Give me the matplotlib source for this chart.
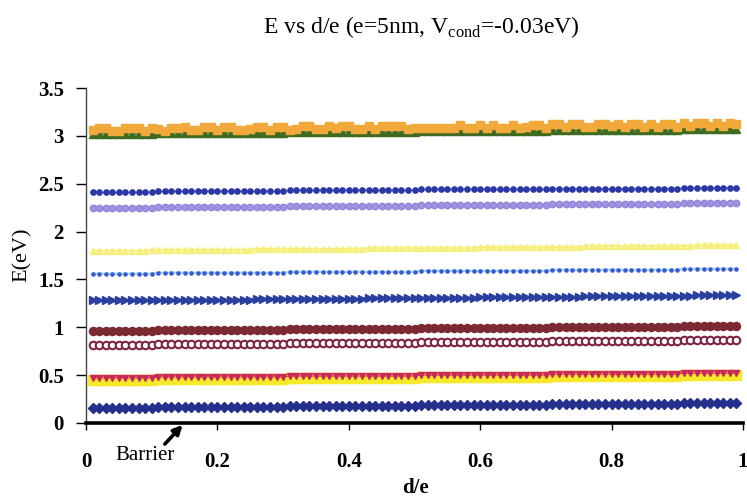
import numpy as np
import matplotlib
matplotlib.use('Agg')
import matplotlib.pyplot as plt

plt.rcParams['font.family'] = ['Liberation Serif', 'DejaVu Serif']
plt.rcParams['mathtext.fontset'] = 'custom'
plt.rcParams['mathtext.rm'] = 'Liberation Serif'

# barrier position d/e (0.01 ... 0.99)
d_e = np.arange(1, 100) / 100

# energy levels E(eV) for each state vs barrier position
e_diamond = [
    0.16, 0.16, 0.16, 0.16, 0.16, 0.16, 0.16, 0.16, 0.16, 0.16,
    0.17, 0.17, 0.17, 0.17, 0.17, 0.17, 0.17, 0.17, 0.17, 0.17,
    0.17, 0.17, 0.17, 0.17, 0.17, 0.17, 0.17, 0.17, 0.17, 0.17,
    0.18, 0.18, 0.18, 0.18, 0.18, 0.18, 0.18, 0.18, 0.18, 0.18,
    0.18, 0.18, 0.18, 0.18, 0.18, 0.18, 0.18, 0.18, 0.18, 0.18,
    0.19, 0.19, 0.19, 0.19, 0.19, 0.19, 0.19, 0.19, 0.19, 0.19,
    0.19, 0.19, 0.19, 0.19, 0.19, 0.19, 0.19, 0.19, 0.19, 0.19,
    0.20, 0.20, 0.20, 0.20, 0.20, 0.20, 0.20, 0.20, 0.20, 0.20,
    0.20, 0.20, 0.20, 0.20, 0.20, 0.20, 0.20, 0.20, 0.20, 0.20,
    0.21, 0.21, 0.21, 0.21, 0.21, 0.21, 0.21, 0.21, 0.21,
]
e_square = [
    0.45, 0.45, 0.45, 0.45, 0.45, 0.45, 0.45, 0.45, 0.45, 0.45,
    0.46, 0.46, 0.46, 0.46, 0.46, 0.46, 0.46, 0.46, 0.46, 0.46,
    0.46, 0.46, 0.46, 0.46, 0.46, 0.46, 0.46, 0.46, 0.46, 0.46,
    0.47, 0.47, 0.47, 0.47, 0.47, 0.47, 0.47, 0.47, 0.47, 0.47,
    0.47, 0.47, 0.47, 0.47, 0.47, 0.47, 0.47, 0.47, 0.47, 0.47,
    0.48, 0.48, 0.48, 0.48, 0.48, 0.48, 0.48, 0.48, 0.48, 0.48,
    0.48, 0.48, 0.48, 0.48, 0.48, 0.48, 0.48, 0.48, 0.48, 0.48,
    0.49, 0.49, 0.49, 0.49, 0.49, 0.49, 0.49, 0.49, 0.49, 0.49,
    0.49, 0.49, 0.49, 0.49, 0.49, 0.49, 0.49, 0.49, 0.49, 0.49,
    0.50, 0.50, 0.50, 0.50, 0.50, 0.50, 0.50, 0.50, 0.50,
]
e_tri_down = [
    0.47, 0.47, 0.47, 0.47, 0.47, 0.47, 0.47, 0.47, 0.47, 0.47,
    0.48, 0.48, 0.48, 0.48, 0.48, 0.48, 0.48, 0.48, 0.48, 0.48,
    0.48, 0.48, 0.48, 0.48, 0.48, 0.48, 0.48, 0.48, 0.48, 0.48,
    0.49, 0.49, 0.49, 0.49, 0.49, 0.49, 0.49, 0.49, 0.49, 0.49,
    0.49, 0.49, 0.49, 0.49, 0.49, 0.49, 0.49, 0.49, 0.49, 0.49,
    0.50, 0.50, 0.50, 0.50, 0.50, 0.50, 0.50, 0.50, 0.50, 0.50,
    0.50, 0.50, 0.50, 0.50, 0.50, 0.50, 0.50, 0.50, 0.50, 0.50,
    0.51, 0.51, 0.51, 0.51, 0.51, 0.51, 0.51, 0.51, 0.51, 0.51,
    0.51, 0.51, 0.51, 0.51, 0.51, 0.51, 0.51, 0.51, 0.51, 0.51,
    0.52, 0.52, 0.52, 0.52, 0.52, 0.52, 0.52, 0.52, 0.52,
]
e_ring = [
    0.82, 0.82, 0.82, 0.82, 0.82, 0.82, 0.82, 0.82, 0.82, 0.82,
    0.83, 0.83, 0.83, 0.83, 0.83, 0.83, 0.83, 0.83, 0.83, 0.83,
    0.83, 0.83, 0.83, 0.83, 0.83, 0.83, 0.83, 0.83, 0.83, 0.83,
    0.84, 0.84, 0.84, 0.84, 0.84, 0.84, 0.84, 0.84, 0.84, 0.84,
    0.84, 0.84, 0.84, 0.84, 0.84, 0.84, 0.84, 0.84, 0.84, 0.84,
    0.85, 0.85, 0.85, 0.85, 0.85, 0.85, 0.85, 0.85, 0.85, 0.85,
    0.85, 0.85, 0.85, 0.85, 0.85, 0.85, 0.85, 0.85, 0.85, 0.85,
    0.86, 0.86, 0.86, 0.86, 0.86, 0.86, 0.86, 0.86, 0.86, 0.86,
    0.86, 0.86, 0.86, 0.86, 0.86, 0.86, 0.86, 0.86, 0.86, 0.86,
    0.87, 0.87, 0.87, 0.87, 0.87, 0.87, 0.87, 0.87, 0.87,
]
e_dot = [
    0.96, 0.96, 0.96, 0.96, 0.96, 0.96, 0.96, 0.96, 0.96, 0.96,
    0.97, 0.97, 0.97, 0.97, 0.97, 0.97, 0.97, 0.97, 0.97, 0.97,
    0.97, 0.97, 0.97, 0.97, 0.97, 0.97, 0.97, 0.97, 0.97, 0.97,
    0.98, 0.98, 0.98, 0.98, 0.98, 0.98, 0.98, 0.98, 0.98, 0.98,
    0.98, 0.98, 0.98, 0.98, 0.98, 0.98, 0.98, 0.98, 0.98, 0.98,
    0.99, 0.99, 0.99, 0.99, 0.99, 0.99, 0.99, 0.99, 0.99, 0.99,
    0.99, 0.99, 0.99, 0.99, 0.99, 0.99, 0.99, 0.99, 0.99, 0.99,
    1.00, 1.00, 1.00, 1.00, 1.00, 1.00, 1.00, 1.00, 1.00, 1.00,
    1.00, 1.00, 1.00, 1.00, 1.00, 1.00, 1.00, 1.00, 1.00, 1.00,
    1.01, 1.01, 1.01, 1.01, 1.01, 1.01, 1.01, 1.01, 1.01,
]
e_tri_right = [
    1.28, 1.28, 1.28, 1.28, 1.28, 1.28, 1.28, 1.28, 1.28, 1.29,
    1.29, 1.29, 1.29, 1.29, 1.29, 1.29, 1.29, 1.29, 1.29, 1.29,
    1.29, 1.29, 1.29, 1.29, 1.29, 1.30, 1.30, 1.30, 1.30, 1.30,
    1.30, 1.30, 1.30, 1.30, 1.30, 1.30, 1.30, 1.30, 1.30, 1.30,
    1.30, 1.30, 1.31, 1.31, 1.31, 1.31, 1.31, 1.31, 1.31, 1.31,
    1.31, 1.31, 1.31, 1.31, 1.31, 1.31, 1.31, 1.31, 1.31, 1.32,
    1.32, 1.32, 1.32, 1.32, 1.32, 1.32, 1.32, 1.32, 1.32, 1.32,
    1.32, 1.32, 1.32, 1.32, 1.32, 1.33, 1.33, 1.33, 1.33, 1.33,
    1.33, 1.33, 1.33, 1.33, 1.33, 1.33, 1.33, 1.33, 1.33, 1.33,
    1.33, 1.33, 1.34, 1.34, 1.34, 1.34, 1.34, 1.34, 1.34,
]
e_cyan = [
    1.56, 1.56, 1.56, 1.56, 1.56, 1.56, 1.56, 1.56, 1.56, 1.56,
    1.57, 1.57, 1.57, 1.57, 1.57, 1.57, 1.57, 1.57, 1.57, 1.57,
    1.57, 1.57, 1.57, 1.57, 1.57, 1.57, 1.57, 1.57, 1.57, 1.57,
    1.58, 1.58, 1.58, 1.58, 1.58, 1.58, 1.58, 1.58, 1.58, 1.58,
    1.58, 1.58, 1.58, 1.58, 1.58, 1.58, 1.58, 1.58, 1.58, 1.58,
    1.59, 1.59, 1.59, 1.59, 1.59, 1.59, 1.59, 1.59, 1.59, 1.59,
    1.59, 1.59, 1.59, 1.59, 1.59, 1.59, 1.59, 1.59, 1.59, 1.59,
    1.60, 1.60, 1.60, 1.60, 1.60, 1.60, 1.60, 1.60, 1.60, 1.60,
    1.60, 1.60, 1.60, 1.60, 1.60, 1.60, 1.60, 1.60, 1.60, 1.60,
    1.61, 1.61, 1.61, 1.61, 1.61, 1.61, 1.61, 1.61, 1.61,
]
e_yellow = [
    1.80, 1.80, 1.80, 1.80, 1.80, 1.80, 1.80, 1.80, 1.80, 1.81,
    1.81, 1.81, 1.81, 1.81, 1.81, 1.81, 1.81, 1.81, 1.81, 1.81,
    1.81, 1.81, 1.81, 1.81, 1.81, 1.82, 1.82, 1.82, 1.82, 1.82,
    1.82, 1.82, 1.82, 1.82, 1.82, 1.82, 1.82, 1.82, 1.82, 1.82,
    1.82, 1.82, 1.83, 1.83, 1.83, 1.83, 1.83, 1.83, 1.83, 1.83,
    1.83, 1.83, 1.83, 1.83, 1.83, 1.83, 1.83, 1.83, 1.83, 1.84,
    1.84, 1.84, 1.84, 1.84, 1.84, 1.84, 1.84, 1.84, 1.84, 1.84,
    1.84, 1.84, 1.84, 1.84, 1.84, 1.85, 1.85, 1.85, 1.85, 1.85,
    1.85, 1.85, 1.85, 1.85, 1.85, 1.85, 1.85, 1.85, 1.85, 1.85,
    1.85, 1.85, 1.86, 1.86, 1.86, 1.86, 1.86, 1.86, 1.86,
]
e_lavender = [
    2.25, 2.25, 2.25, 2.25, 2.25, 2.25, 2.25, 2.25, 2.25, 2.25,
    2.26, 2.26, 2.26, 2.26, 2.26, 2.26, 2.26, 2.26, 2.26, 2.26,
    2.26, 2.26, 2.26, 2.26, 2.26, 2.26, 2.26, 2.26, 2.26, 2.26,
    2.27, 2.27, 2.27, 2.27, 2.27, 2.27, 2.27, 2.27, 2.27, 2.27,
    2.27, 2.27, 2.27, 2.27, 2.27, 2.27, 2.27, 2.27, 2.27, 2.27,
    2.28, 2.28, 2.28, 2.28, 2.28, 2.28, 2.28, 2.28, 2.28, 2.28,
    2.28, 2.28, 2.28, 2.28, 2.28, 2.28, 2.28, 2.28, 2.28, 2.28,
    2.29, 2.29, 2.29, 2.29, 2.29, 2.29, 2.29, 2.29, 2.29, 2.29,
    2.29, 2.29, 2.29, 2.29, 2.29, 2.29, 2.29, 2.29, 2.29, 2.29,
    2.30, 2.30, 2.30, 2.30, 2.30, 2.30, 2.30, 2.30, 2.30,
]
e_navy = [
    2.41, 2.41, 2.41, 2.41, 2.41, 2.41, 2.41, 2.41, 2.41, 2.41,
    2.42, 2.42, 2.42, 2.42, 2.42, 2.42, 2.42, 2.42, 2.42, 2.42,
    2.42, 2.42, 2.42, 2.42, 2.42, 2.42, 2.42, 2.42, 2.42, 2.42,
    2.43, 2.43, 2.43, 2.43, 2.43, 2.43, 2.43, 2.43, 2.43, 2.43,
    2.43, 2.43, 2.43, 2.43, 2.43, 2.43, 2.43, 2.43, 2.43, 2.43,
    2.44, 2.44, 2.44, 2.44, 2.44, 2.44, 2.44, 2.44, 2.44, 2.44,
    2.44, 2.44, 2.44, 2.44, 2.44, 2.44, 2.44, 2.44, 2.44, 2.44,
    2.45, 2.45, 2.45, 2.45, 2.45, 2.45, 2.45, 2.45, 2.45, 2.45,
    2.45, 2.45, 2.45, 2.45, 2.45, 2.45, 2.45, 2.45, 2.45, 2.45,
    2.46, 2.46, 2.46, 2.46, 2.46, 2.46, 2.46, 2.46, 2.46,
]
e_green = [
    3.02, 3.02, 3.02, 3.02, 3.02, 3.02, 3.02, 3.02, 3.02, 3.02,
    3.03, 3.03, 3.03, 3.03, 3.03, 3.03, 3.03, 3.03, 3.03, 3.03,
    3.03, 3.03, 3.03, 3.03, 3.03, 3.03, 3.03, 3.03, 3.03, 3.03,
    3.04, 3.04, 3.04, 3.04, 3.04, 3.04, 3.04, 3.04, 3.04, 3.04,
    3.04, 3.04, 3.04, 3.04, 3.04, 3.04, 3.04, 3.04, 3.04, 3.04,
    3.05, 3.05, 3.05, 3.05, 3.05, 3.05, 3.05, 3.05, 3.05, 3.05,
    3.05, 3.05, 3.05, 3.05, 3.05, 3.05, 3.05, 3.05, 3.05, 3.05,
    3.06, 3.06, 3.06, 3.06, 3.06, 3.06, 3.06, 3.06, 3.06, 3.06,
    3.06, 3.06, 3.06, 3.06, 3.06, 3.06, 3.06, 3.06, 3.06, 3.06,
    3.07, 3.07, 3.07, 3.07, 3.07, 3.07, 3.07, 3.07, 3.07,
]
e_blue = [
    3.05, 3.05, 3.05, 3.05, 3.05, 3.05, 3.05, 3.05, 3.05, 3.05,
    3.06, 3.06, 3.06, 3.06, 3.06, 3.06, 3.06, 3.06, 3.06, 3.06,
    3.06, 3.06, 3.06, 3.06, 3.06, 3.06, 3.06, 3.06, 3.06, 3.06,
    3.07, 3.07, 3.07, 3.07, 3.07, 3.07, 3.07, 3.07, 3.07, 3.07,
    3.07, 3.07, 3.07, 3.07, 3.07, 3.07, 3.07, 3.07, 3.07, 3.07,
    3.08, 3.08, 3.08, 3.08, 3.08, 3.08, 3.08, 3.08, 3.08, 3.08,
    3.08, 3.08, 3.08, 3.08, 3.08, 3.08, 3.08, 3.08, 3.08, 3.08,
    3.09, 3.09, 3.09, 3.09, 3.09, 3.09, 3.09, 3.09, 3.09, 3.09,
    3.09, 3.09, 3.09, 3.09, 3.09, 3.09, 3.09, 3.09, 3.09, 3.09,
    3.10, 3.10, 3.10, 3.10, 3.10, 3.10, 3.10, 3.10, 3.10,
]
e_orange = [
    3.06, 3.08, 3.08, 3.05, 3.05, 3.08, 3.08, 3.08, 3.05, 3.08,
    3.07, 3.05, 3.08, 3.08, 3.09, 3.06, 3.06, 3.09, 3.09, 3.06,
    3.09, 3.09, 3.06, 3.06, 3.07, 3.09, 3.09, 3.06, 3.09, 3.09,
    3.06, 3.07, 3.10, 3.10, 3.07, 3.07, 3.10, 3.08, 3.10, 3.10,
    3.07, 3.07, 3.10, 3.07, 3.10, 3.10, 3.10, 3.10, 3.07, 3.08,
    3.08, 3.08, 3.08, 3.08, 3.08, 3.08, 3.11, 3.08, 3.08, 3.11,
    3.08, 3.11, 3.08, 3.08, 3.11, 3.08, 3.09, 3.11, 3.11, 3.08,
    3.12, 3.12, 3.09, 3.12, 3.12, 3.09, 3.09, 3.12, 3.12, 3.10,
    3.12, 3.09, 3.12, 3.12, 3.09, 3.12, 3.09, 3.12, 3.12, 3.09,
    3.13, 3.10, 3.13, 3.13, 3.10, 3.13, 3.10, 3.13, 3.12,
]

x_ticks = [0, 0.2, 0.4, 0.6, 0.8, 1]
x_tick_labels = ['0', '0.2', '0.4', '0.6', '0.8', '1']
y_ticks = [0, 0.5, 1, 1.5, 2, 2.5, 3, 3.5]
y_tick_labels = ['0', '0.5', '1', '1.5', '2', '2.5', '3', '3.5']

fig = plt.figure(figsize=(7.47, 5.03), dpi=100)
ax = fig.add_axes([86 / 747, 80 / 503, 657 / 747, 335 / 503])

ax.plot(d_e, e_diamond, color='#24308c', marker='D', ms=5.2, lw=1)
ax.plot(d_e, e_square, color='#f6e82a', marker='s', ms=7, lw=1.5)
ax.plot(d_e, e_tri_down, color='#c8285c', marker='v', ms=4.2, lw=0.6)
ax.plot(d_e, e_ring, color='#7d2343', marker='o', ms=5.4, mfc='white',
        mec='#7d2343', mew=1.5, lw=1)
ax.plot(d_e, e_dot, color='#7b2a33', marker='o', ms=5.8, lw=1)
ax.plot(d_e, e_tri_right, color='#2b3f9f', marker='>', ms=5.6, lw=1)
ax.plot(d_e, e_cyan, color='#a4dcf3', lw=1.8, marker='.', ms=4.5,
        mfc='#3a58d2', mec='#3a58d2')
ax.plot(d_e, e_yellow, color='#f5f07c', marker='^', ms=4.6, lw=1.5)
ax.plot(d_e, e_lavender, color='#eab4cc', lw=1.2, marker='o', ms=4.6,
        mfc='#a093e0', mec='#9484dc')
ax.plot(d_e, e_navy, color='#7d8ad8', lw=0.8, marker='o', ms=3.8,
        mfc='#2b37a6', mec='#2b37a6')
ax.plot(d_e, e_green, color='#3d6b20', marker='^', ms=5.5, lw=1)
ax.plot(d_e, e_blue, color='#2456c8', lw=2.2)
ax.plot(d_e, e_orange, color='#f2a93b', marker='s', ms=5.8, lw=1.2)

ax.set_xlim(0, 1)
ax.set_ylim(0, 3.5)
ax.set_xticks(x_ticks, x_tick_labels, fontweight='bold')
ax.set_yticks(y_ticks, y_tick_labels, fontweight='bold')
ax.tick_params(axis='x', direction='out', length=5, width=1, pad=16, labelsize=15)
ax.tick_params(axis='y', direction='out', length=7, width=1, pad=9, labelsize=15)

ax.spines['top'].set_visible(False)
ax.spines['right'].set_visible(False)
ax.spines['left'].set_color('#444444')
ax.spines['left'].set_linewidth(1)
ax.spines['bottom'].set_color('black')
ax.spines['bottom'].set_linewidth(2.6)

# barrier marker below the axis
ax.annotate('', xy=(0.147, -0.02), xytext=(0.12, -0.22),
            arrowprops=dict(arrowstyle='-|>', lw=2.6, color='black',
                            mutation_scale=13, shrinkA=0, shrinkB=0),
            annotation_clip=False)
ax.text(0.09, -0.34, 'Barrier', ha='center', va='center', fontsize=15,
        clip_on=False)

fig.text(421 / 747, 1 - 33 / 503,
         r'E vs d/e (e=5nm, V$_{\mathrm{cond}}$=-0.03eV)',
         ha='center', va='baseline', fontsize=17)
fig.text(415 / 747, 1 - 488 / 503, 'd/e', ha='center', va='center',
         fontsize=15, fontweight='bold')
fig.text(22 / 747, 1 - 255 / 503, 'E(eV)', rotation=90, ha='center',
         va='center', fontsize=16)

fig.savefig('out.png', dpi=100)
